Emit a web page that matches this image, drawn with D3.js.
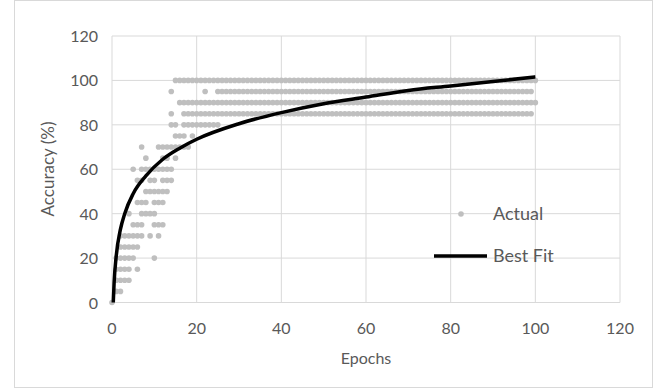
<!DOCTYPE html>
<html lang="en">
	<head>
		<meta charset="utf-8">
		<title>Accuracy vs Epochs</title>
		<script type="text/javascript" src="https://cdn.jsdelivr.net/npm/d3@7"></script>
		<style type="text/css">
			body { margin: 0; background: #fff; }
			text { font-family: Lato, "Open Sans", sans-serif; fill: #595959; }
		</style>
	</head>
	<body>
		<script type="text/javascript">

			//Width and height
			var w = 667;
			var h = 390;

			//Accuracy levels (%) and, for each one, the runs of epochs [first, last] that hit it
			var accuracyLevels = [0, 5, 10, 15, 20, 25, 30, 35, 40, 45, 50, 55, 60, 65, 70, 75, 80, 85, 90, 95, 100];
			var epochRuns = [
				[[0, 0]],
				[[1, 2]],
				[[1, 4]],
				[[1, 4], [6, 6]],
				[[1, 5], [10, 10]],
				[[2, 6]],
				[[2, 7], [9, 9], [11, 11]],
				[[5, 7], [10, 12]],
				[[4, 4], [7, 10]],
				[[6, 8], [10, 12]],
				[[8, 13]],
				[[6, 7], [9, 10], [12, 14]],
				[[5, 5], [7, 14]],
				[[8, 8], [12, 13], [15, 15]],
				[[7, 7], [11, 18]],
				[[15, 17], [19, 19]],
				[[14, 15], [17, 25]],
				[[14, 14], [17, 99]],
				[[16, 100]],
				[[14, 14], [22, 22], [25, 99]],
				[[15, 100]]
			];

			//Best fit curve
			var fitEpochs   = [0.3, 0.5, 1,  2,  3,  5,  8,  12,   16,   20,   30,   40,   50,   60,   70,   80,   90,   100];
			var fitAccuracy = [0,   9,   21, 33, 40, 49, 57, 64.5, 69.5, 73.5, 80.5, 85.5, 89.5, 92.5, 95.5, 97.5, 99.5, 101.6];

			//Axis ticks
			var xTicks = [0, 20, 40, 60, 80, 100, 120];
			var yTicks = [0, 20, 40, 60, 80, 100, 120];

			//Flatten the runs into points
			var dataset = [];
			accuracyLevels.forEach(function(level, i) {
				epochRuns[i].forEach(function(run) {
					for (var e = run[0]; e <= run[1]; e++) {
						dataset.push([e, level]);
					}
				});
			});

			var xScale = d3.scaleLinear()
							.domain([0, 120])
							.range([112, 620]);

			var yScale = d3.scaleLinear()
							.domain([0, 120])
							.range([302.5, 36]);

			//Create SVG element
			var svg = d3.select("body")
						.append("svg")
						.attr("width", w)
						.attr("height", h);

			//Chart border
			svg.append("rect")
				.attr("x", 14.5)
				.attr("y", 0.5)
				.attr("width", 638)
				.attr("height", 387)
				.attr("fill", "none")
				.attr("stroke", "#d9d9d9");

			//Gridlines
			svg.append("g")
				.selectAll("line")
				.data(xTicks)
				.enter()
				.append("line")
				.attr("x1", function(d) { return xScale(d); })
				.attr("x2", function(d) { return xScale(d); })
				.attr("y1", yScale(0))
				.attr("y2", yScale(120))
				.attr("stroke", "#d9d9d9");

			svg.append("g")
				.selectAll("line")
				.data(yTicks)
				.enter()
				.append("line")
				.attr("x1", xScale(0))
				.attr("x2", xScale(120))
				.attr("y1", function(d) { return yScale(d); })
				.attr("y2", function(d) { return yScale(d); })
				.attr("stroke", "#d9d9d9");

			//Tick labels
			svg.append("g")
				.selectAll("text")
				.data(xTicks)
				.enter()
				.append("text")
				.text(function(d) { return d; })
				.attr("x", function(d) { return xScale(d); })
				.attr("y", 334)
				.attr("text-anchor", "middle")
				.attr("font-size", "16px");

			svg.append("g")
				.selectAll("text")
				.data(yTicks)
				.enter()
				.append("text")
				.text(function(d) { return d; })
				.attr("x", 98)
				.attr("y", function(d) { return yScale(d) + 6; })
				.attr("text-anchor", "end")
				.attr("font-size", "16px");

			//Axis titles
			svg.append("text")
				.text("Epochs")
				.attr("x", 366)
				.attr("y", 364)
				.attr("text-anchor", "middle")
				.attr("font-size", "16px");

			svg.append("text")
				.text("Accuracy (%)")
				.attr("transform", "translate(54,169) rotate(-90)")
				.attr("text-anchor", "middle")
				.attr("font-size", "17px");

			//Actual points
			svg.append("g")
				.selectAll("circle")
				.data(dataset)
				.enter()
				.append("circle")
				.attr("cx", function(d) { return xScale(d[0]); })
				.attr("cy", function(d) { return yScale(d[1]); })
				.attr("r", 2.8)
				.attr("fill", "#bfbfbf");

			//Best fit line
			var line = d3.line()
						.x(function(d) { return xScale(d[0]); })
						.y(function(d) { return yScale(d[1]); })
						.curve(d3.curveMonotoneX);

			svg.append("path")
				.datum(d3.zip(fitEpochs, fitAccuracy))
				.attr("d", line)
				.attr("fill", "none")
				.attr("stroke", "#000")
				.attr("stroke-width", 3.5);

			//Legend
			var legend = svg.append("g");

			legend.append("circle")
				.attr("cx", 461)
				.attr("cy", 214)
				.attr("r", 2.8)
				.attr("fill", "#bfbfbf");

			legend.append("text")
				.text("Actual")
				.attr("x", 493)
				.attr("y", 220)
				.attr("font-size", "18px");

			legend.append("line")
				.attr("x1", 434)
				.attr("x2", 487)
				.attr("y1", 256)
				.attr("y2", 256)
				.attr("stroke", "#000")
				.attr("stroke-width", 3.5);

			legend.append("text")
				.text("Best Fit")
				.attr("x", 493)
				.attr("y", 262)
				.attr("font-size", "18px");

		</script>
	</body>
</html>
